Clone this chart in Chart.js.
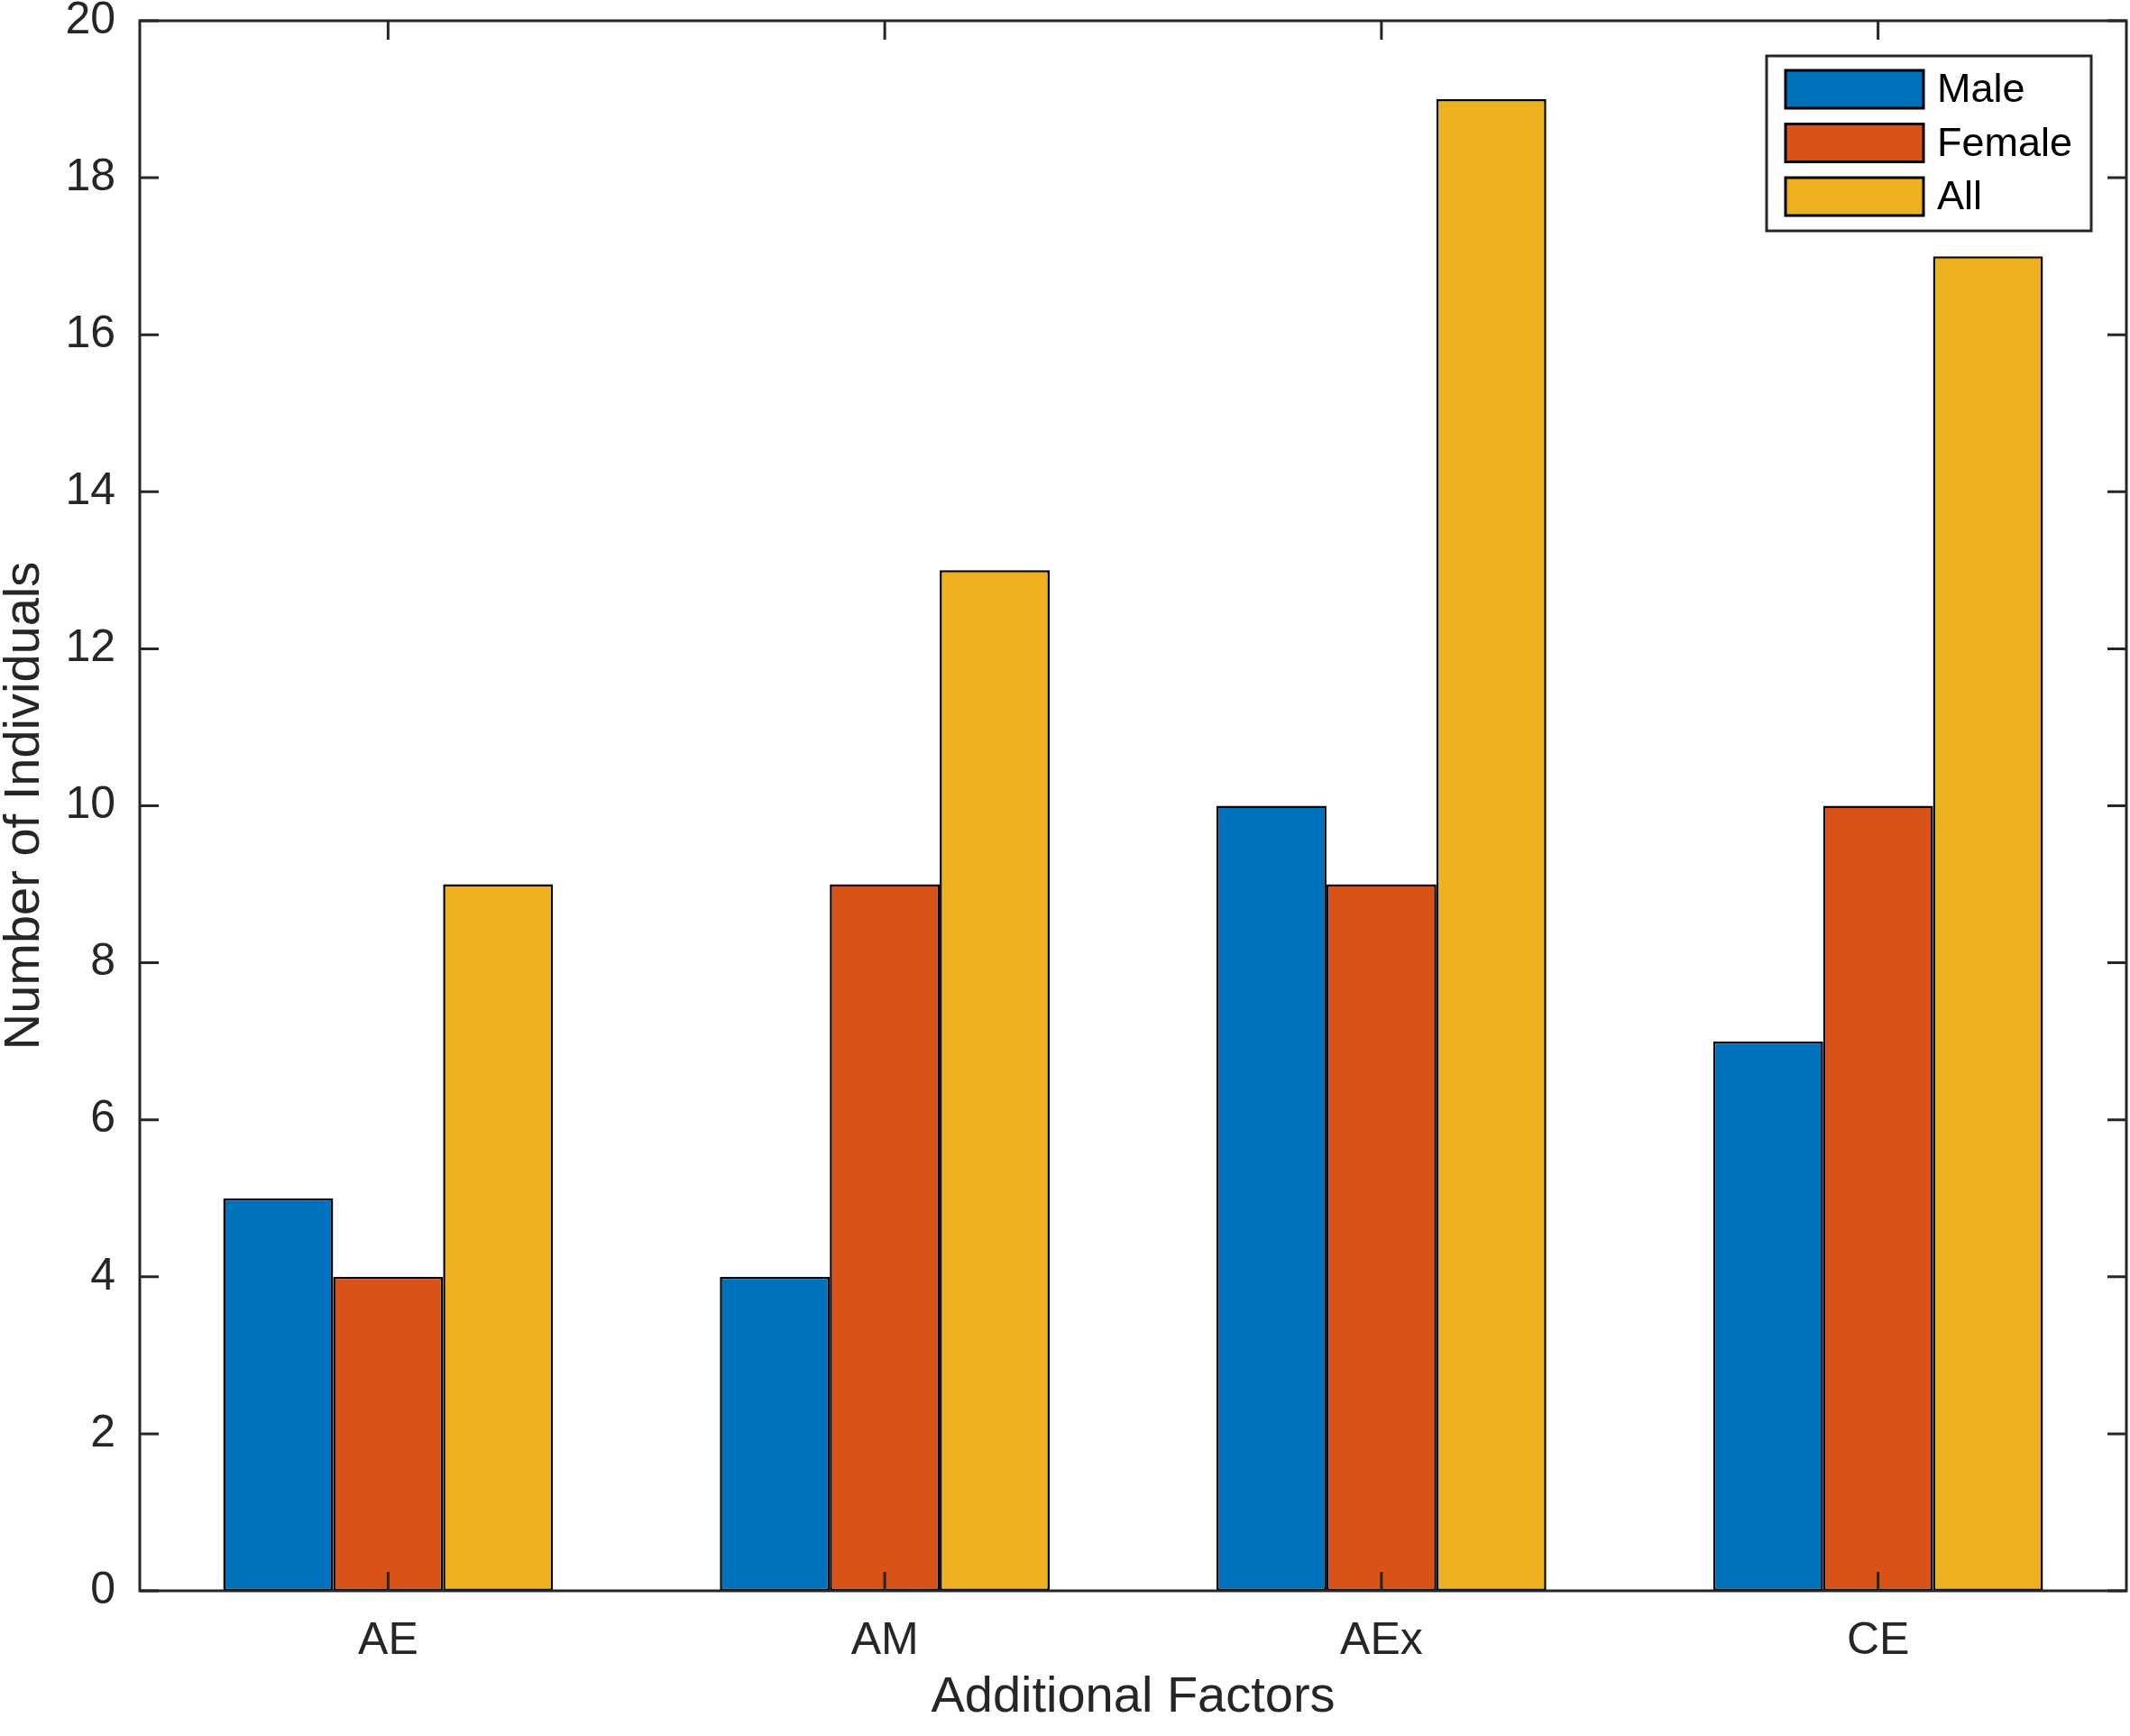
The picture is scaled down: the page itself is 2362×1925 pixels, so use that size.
<!DOCTYPE html>
<html>
<head>
<meta charset="utf-8">
<script src="https://cdn.jsdelivr.net/npm/chart.js@4.4.0/dist/chart.umd.min.js"></script>
<style>
  body { margin: 0; background: #fff; }
  canvas { display: block; }
</style>
</head>
<body>
<canvas id="chart" width="2362" height="1925"></canvas>
<script>
// data
var categories = ["AE", "AM", "AEx", "CE"];
var maleCounts = [5, 4, 10, 7];
var femaleCounts = [4, 9, 9, 10];
var allCounts = [9, 13, 19, 17];
var seriesNames = ["Male", "Female", "All"];
var yMin = 0, yMax = 20, yStep = 2;

var axisColor = "#262626";
var fontFamily = "'Liberation Sans', Arial, Helvetica, sans-serif";
var tickLen = 21;

// MATLAB style box with inward ticks on all four sides
var boxTicks = {
	id: "boxTicks",
	afterDraw: function(chart) {
		var ctx = chart.ctx, a = chart.chartArea;
		var xs = chart.scales.x, ys = chart.scales.y;
		ctx.save();
		ctx.strokeStyle = axisColor;
		ctx.lineWidth = 3;
		ctx.beginPath();
		xs.ticks.forEach(function(t, i) {
			var px = xs.getPixelForTick(i);
			ctx.moveTo(px, a.bottom); ctx.lineTo(px, a.bottom - tickLen);
			ctx.moveTo(px, a.top); ctx.lineTo(px, a.top + tickLen);
		});
		ys.ticks.forEach(function(t, i) {
			var py = ys.getPixelForTick(i);
			ctx.moveTo(a.left, py); ctx.lineTo(a.left + tickLen, py);
			ctx.moveTo(a.right, py); ctx.lineTo(a.right - tickLen, py);
		});
		ctx.stroke();
		ctx.strokeRect(a.left, a.top, a.right - a.left, a.bottom - a.top);
		ctx.restore();
	}
};

// legend box in the upper right of the axes
var boxLegend = {
	id: "boxLegend",
	afterDraw: function(chart) {
		var ctx = chart.ctx, a = chart.chartArea;
		var w = 360, h = 194;
		var x0 = a.right - 39 - w, y0 = a.top + 39;
		ctx.save();
		ctx.fillStyle = "#fff";
		ctx.fillRect(x0, y0, w, h);
		ctx.strokeStyle = axisColor;
		ctx.lineWidth = 3;
		ctx.strokeRect(x0, y0, w, h);
		ctx.font = "45px " + fontFamily;
		ctx.textBaseline = "middle";
		chart.data.datasets.forEach(function(ds, i) {
			var cy = y0 + 37 + i * 59.5;
			ctx.fillStyle = ds.backgroundColor;
			ctx.fillRect(x0 + 21, cy - 21, 153, 42);
			ctx.strokeStyle = "#000";
			ctx.lineWidth = 3;
			ctx.strokeRect(x0 + 21, cy - 21, 153, 42);
			ctx.fillStyle = "#000";
			ctx.fillText(ds.label, x0 + 189, cy + 2);
		});
		ctx.restore();
	}
};

var data = {
	labels: categories,
	datasets: [
		{ label: seriesNames[0], data: maleCounts, backgroundColor: "#0072BD" },
		{ label: seriesNames[1], data: femaleCounts, backgroundColor: "#D95319" },
		{ label: seriesNames[2], data: allCounts, backgroundColor: "#EDB120" }
	].map(function(d) {
		d.borderColor = "#000";
		d.borderWidth = 2.5;
		d.borderSkipped = false;
		d.categoryPercentage = 0.664;
		d.barPercentage = 1.0;
		return d;
	})
};

var options = {
	responsive: false,
	animation: false,
	devicePixelRatio: 1,
	layout: { padding: { top: 23, right: 4, left: 0, bottom: 0 } },
	plugins: {
		legend: { display: false },
		tooltip: { enabled: false }
	},
	scales: {
		x: {
			offset: true,
			grid: { display: false, drawTicks: false },
			border: { display: false },
			ticks: { color: axisColor, padding: 26, font: { family: fontFamily, size: 50 } },
			title: {
				display: true,
				text: "Additional Factors",
				color: axisColor,
				padding: { top: 0, bottom: 9 },
				font: { family: fontFamily, size: 56 }
			},
			afterFit: function(s) { s.height = 161; s.paddingLeft = 0; s.paddingRight = 0; }
		},
		y: {
			min: yMin,
			max: yMax,
			grid: { display: false, drawTicks: false },
			border: { display: false },
			ticks: { stepSize: yStep, color: axisColor, padding: 27, font: { family: fontFamily, size: 50 } },
			title: {
				display: true,
				text: "Number of Individuals",
				color: axisColor,
				padding: { top: 0, bottom: 0 },
				font: { family: fontFamily, size: 56, lineHeight: 1.0 }
			},
			afterFit: function(s) { s.width = 155; s.paddingTop = 0; s.paddingBottom = 0; }
		}
	}
};

var chart = new Chart(document.getElementById("chart"), {
	type: "bar",
	data: data,
	options: options,
	plugins: [boxTicks, boxLegend]
});
</script>
</body>
</html>
